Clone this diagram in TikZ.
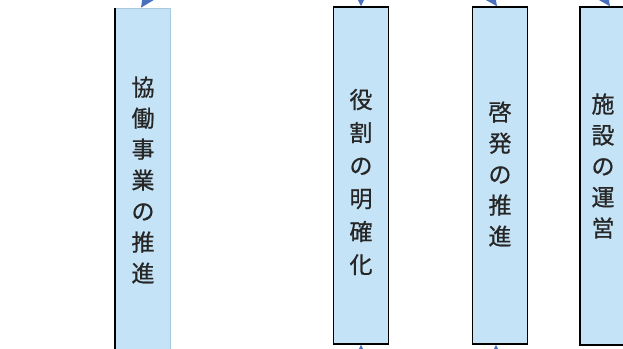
\documentclass[tikz,border=0pt]{standalone}
\usepackage{fontspec}
\newfontfamily\cjk[BoldFont={Noto Sans CJK JP},BoldFeatures={FakeBold=0.8}]{Noto Sans CJK JP}
\usetikzlibrary{arrows.meta}
\definecolor{boxfill}{RGB}{197,227,246}
\definecolor{faint}{RGB}{170,200,220}
\definecolor{arrowblue}{RGB}{72,112,188}
\tikzset{
  colbox/.style={rectangle, fill=boxfill, draw=black, line width=1.4pt, minimum width=55pt, inner sep=0pt},
  coltext/.style={align=center, text=black!85, font=\cjk\bfseries\fontsize{23}{#1}\selectfont, inner sep=0pt},
  conn/.style={draw=arrowblue, line width=1.6pt, -{Triangle[width=12pt,length=13pt]}, fill=arrowblue}
}
\begin{document}
\begin{tikzpicture}[x=1pt,y=-1pt]
\useasboundingbox (0,0) rectangle (623,348);
% box 1 (only left edge dark)
\node[colbox, draw=faint, line width=0.6pt, minimum height=341pt] (b1) at (142.5,178.5) {};
\draw[black, line width=1.8pt] (b1.north west) -- (b1.south west);
\node[colbox, minimum height=337pt] (b2) at (361,175.5) {};
\node[colbox, minimum height=337pt] (b3) at (500,175.5) {};
\node[colbox, minimum height=338pt] (b4) at (607.5,176) {};
% texts
\node[coltext=31] (t1) at (143,180) {協\\働\\事\\業\\の\\推\\進};
\node[coltext=33] (t2) at (361,182) {役\\割\\の\\明\\確\\化};
\node[coltext=31] (t3) at (500,174) {啓\\発\\の\\推\\進};
\node[coltext=31] (t4) at (603,166) {施\\設\\の\\運\\営};
% connectors
\coordinate (a1) at (158,-18);
\coordinate (a2) at (361,-25);
\coordinate (a3) at (480,-18);
\coordinate (a4) at (593,-18);
\coordinate (c1) at (130,368);
\coordinate (c2) at (361,370);
\coordinate (c3) at (496,370);
\draw[conn] (a1) -- ([xshift=-1.5pt]b1.north);
\draw[conn] (a2) -- (b2.north);
\draw[conn] (a3) -- ([xshift=-3pt]b3.north);
\draw[conn] (a4) -- ([xshift=2.5pt]b4.north);
\draw[conn] (c1) -- ([yshift=-6pt]b1.south);
\draw[conn] (c2) -- (b2.south);
\draw[conn] (c3) -- ([xshift=-4pt]b3.south);
\end{tikzpicture}
\end{document}
